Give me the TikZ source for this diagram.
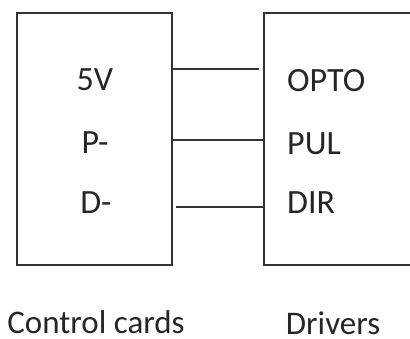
\documentclass[tikz,border=0pt]{standalone}
\usepackage{fontspec}
\setmainfont{Carlito}
\usetikzlibrary{positioning}
\begin{document}
\begin{tikzpicture}[x=1pt,y=-1pt]
		\tikzstyle{board}=[rectangle,draw=black!80,line width=1.7pt,minimum width=155pt,
			minimum height=252pt,inner sep=0pt];
		\tikzstyle{pin}=[font=\fontsize{34}{40}\selectfont,text=black!85,inner sep=0pt];
		\tikzstyle{caption}=[font=\fontsize{33}{40}\selectfont,text=black!85,inner sep=0pt];
		\tikzstyle{wire}=[draw=black!80,line width=1.7pt];
		\useasboundingbox (0,0) rectangle (410,338);
		\clip (0,0) rectangle (410,338);

		\node[board](ctrl) at (94.5,139){};
		\node[board,minimum width=180pt](drv) at (354,139){};

		\node[pin](v5) at (95,80){5V};
		\node[pin](pm) at (95,143){P-};
		\node[pin](dm) at (96,203){D-};

		\node[pin,anchor=west](opto) at (287,81){OPTO};
		\node[pin,anchor=west](pul) at (287,144){PUL};
		\node[pin,anchor=west](dir) at (287,203){DIR};

		\node[caption](ctrlname) at (96,322){Control cards};
		\node[caption](drvname) at (333,323){Drivers};

		\coordinate (w1) at (0,69);
		\coordinate (w2) at (0,140);
		\coordinate (w3) at (0,207);
		\draw[wire,shorten >=4pt](ctrl.east|-w1)--(drv.west|-w1);
		\draw[wire](ctrl.east|-w2)--(drv.west|-w2);
		\draw[wire,shorten <=3pt](ctrl.east|-w3)--(drv.west|-w3);
	\end{tikzpicture}
\end{document}
